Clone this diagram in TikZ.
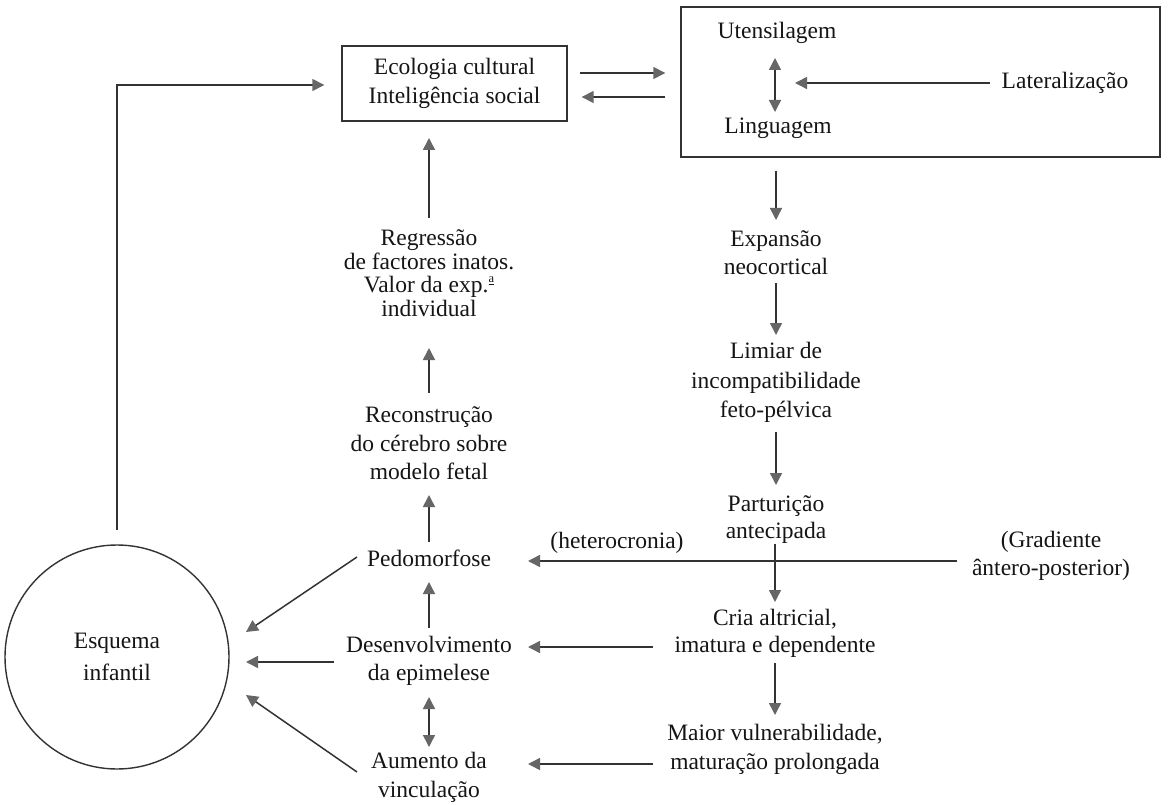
\documentclass[tikz,border=0pt]{standalone}
\usepackage{fontspec}
\setmainfont{Liberation Serif}
\usetikzlibrary{arrows.meta,calc}
\definecolor{linec}{HTML}{333333}
\definecolor{tipc}{HTML}{666666}
\definecolor{txtc}{HTML}{151515}
\newcommand{\ordA}{\smash{\raisebox{0.42em}{\fontsize{12.5}{12.5}\selectfont\underline{a}}}}
\begin{document}
\begin{tikzpicture}[x=1pt,y=-1pt,
  txt/.style={inner sep=0pt,align=center,text=txtc,font=\fontsize{23.5}{28.5}\selectfont},
  boxn/.style={txt,draw=linec,line width=1.4pt},
  arr/.style={draw=linec,line width=1.5pt,-{Triangle[length=12pt,width=12pt,color=tipc]}},
  dbl/.style={draw=linec,line width=1.5pt,{Triangle[length=12pt,width=12pt,color=tipc]}-{Triangle[length=12pt,width=12pt,color=tipc]}}]
\useasboundingbox (0,0) rectangle (1168,805);
\fill[white] (0,0) rectangle (1168,805);
% top boxes
\node[boxn,minimum width=225pt,minimum height=75pt] (eco) at (454.5,83.5) {Ecologia cultural\\Inteligência social};
\node[boxn,minimum width=479pt,minimum height=150pt] (lang) at (920.5,82) {};
\node[txt] (uten) at (777,33) {Utensilagem};
\node[txt] (ling) at (778,128) {Linguagem};
\node[txt] (lat) at (1065,83) {Lateralização};
% left column
\node[txt,font=\fontsize{23.5}{23.5}\selectfont] (regr) at (429,273) {Regressão\\de factores inatos.\\Valor da exp.\ordA\\individual};
\node[txt] (recon) at (429,443.5) {Reconstrução\\do cérebro sobre\\modelo fetal};
\node[txt] (pedo) at (429,558) {Pedomorfose};
\node[txt] (desen) at (429,661) {Desenvolvimento\\da epimelese};
\node[txt] (aum) at (429,777.5) {Aumento da\\vinculação};
\node[txt,draw=linec,line width=1.4pt,circle,minimum size=224pt,font=\fontsize{23.5}{32}\selectfont] (esq) at (117,657) {Esquema\\infantil};
% right column
\node[txt] (expa) at (776,252.5) {Expansão\\neocortical};
\node[txt,font=\fontsize{23.5}{29.5}\selectfont] (limiar) at (776,382.5) {Limiar de\\incompatibilidade\\feto-pélvica};
\node[txt,font=\fontsize{23.5}{27}\selectfont] (partur) at (776,519.5) {Parturição\\antecipada};
\node[txt,font=\fontsize{23.5}{27}\selectfont] (cria) at (775,633.5) {Cria altricial,\\imatura e dependente};
\node[txt] (maior) at (775,749.5) {Maior vulnerabilidade,\\maturação prolongada};
\node[txt] (het) at (617,543) {(heterocronia)};
\node[txt] (grad) at (1051,556) {(Gradiente\\ântero-posterior)};
% arrows in top area
\draw[dbl] ($(uten)+(-2,25)$) -- ($(ling)+(-3,-16)$);
\draw[arr] ($(lat.west)+(-12,0)$) -- ($(uten)+(18,50)$);
\draw[arr] ($(eco.east)+(12,-10.5)$) -- ($(lang.west)+(-15,-9)$);
\draw[arr] ($(lang.west)+(-15,15)$) -- ($(eco.east)+(14,13.5)$);
% left column arrows
\draw[arr] ($(regr)+(0,-55)$) -- ($(eco)+(-25.5,54.5)$);
\draw[arr] ($(recon)+(0,-50.5)$) -- ($(regr)+(0,75)$);
\draw[arr] ($(pedo)+(0,-16)$) -- ($(recon)+(0,51.5)$);
\draw[arr] ($(desen)+(0,-33)$) -- ($(pedo)+(0,24)$);
\draw[dbl] ($(desen)+(0,36)$) -- ($(aum)+(0,-30.5)$);
% arrows to circle
\draw[arr] ($(pedo)+(-72,-1)$) -- ($(esq)+(129,-25)$);
\draw[arr] ($(desen)+(-95,1)$) -- ($(esq)+(129,5)$);
\draw[arr] ($(aum)+(-72,-5.5)$) -- ($(esq)+(129,38)$);
\draw[arr] ($(esq)+(0,-127)$) |- ($(eco.west)+(-17,1.5)$);
% right column arrows
\draw[arr] ($(lang.south)+(-144.5,13)$) -- ($(expa)+(0,-32.5)$);
\draw[arr] ($(expa)+(0,30.5)$) -- ($(limiar)+(0,-47.5)$);
\draw[arr] ($(limiar)+(0,49.5)$) -- ($(partur)+(0,-34.5)$);
\draw[arr] ($(partur)+(-1,24)$) -- ($(cria)+(0,-31.5)$);
\draw[arr] ($(cria)+(0,29.5)$) -- ($(maior)+(0,-34.5)$);
% horizontal arrows
\draw[arr] ($(grad)+(-94,5)$) -- ($(pedo)+(99,3)$);
\draw[arr] ($(cria)+(-122,13.5)$) -- ($(desen)+(99,-14)$);
\draw[arr] ($(maior)+(-122,14.5)$) -- ($(aum)+(99,-13.5)$);
\end{tikzpicture}
\end{document}
